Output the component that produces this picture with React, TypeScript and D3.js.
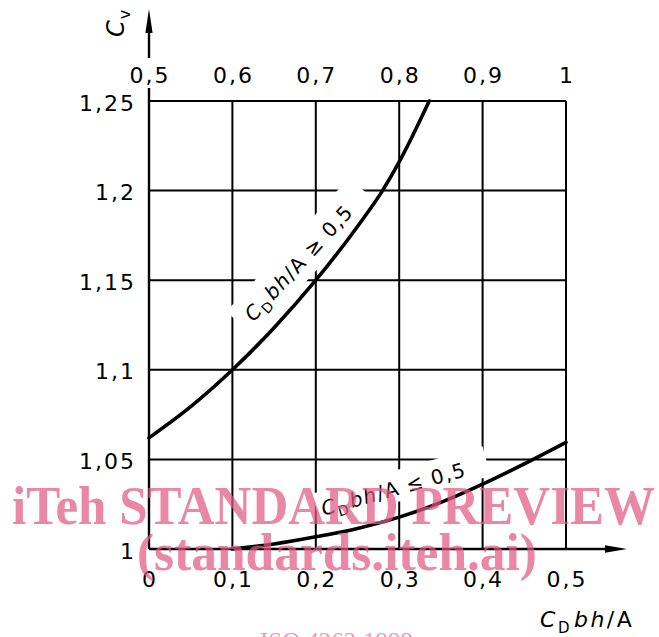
import React from "react";
import * as d3 from "d3";

// ---- data ----
const bottomTicks = [0, 0.1, 0.2, 0.3, 0.4, 0.5];
const bottomLabels = ["0", "0,1", "0,2", "0,3", "0,4", "0,5"];
const topTicks = [0.5, 0.6, 0.7, 0.8, 0.9, 1];
const topLabels = ["0,5", "0,6", "0,7", "0,8", "0,9", "1"];
const yTicks = [1, 1.05, 1.1, 1.15, 1.2, 1.25];
const yLabels = ["1", "1,05", "1,1", "1,15", "1,2", "1,25"];

// curve CDbh/A >= 0.5 (read on top axis)
const upperX = [0.5, 0.55, 0.6, 0.65, 0.7, 0.75, 0.78, 0.8, 0.836];
const upperCv = [1.062, 1.0794, 1.1, 1.1235, 1.15, 1.18, 1.2, 1.216, 1.25];
// curve CDbh/A <= 0.5 (read on bottom axis)
const lowerX = [0.1, 0.15, 0.2, 0.25, 0.3, 0.35, 0.4, 0.45, 0.5];
const lowerCv = [1.0, 1.0028, 1.0068, 1.0115, 1.0178, 1.026, 1.0362, 1.0475, 1.0595];

const W = 659;
const H = 637;
const FONT = "'DejaVu Sans', sans-serif";

export default function App() {
  const xB = d3.scaleLinear().domain([0, 0.5]).range([149, 566]);
  const xT = d3.scaleLinear().domain([0.5, 1]).range([149, 566]);
  const y = d3.scaleLinear().domain([1, 1.25]).range([549, 101]);

  const upperLine = d3
    .line<number>()
    .x((_, i) => xT(upperX[i]))
    .y((d) => y(d))
    .curve(d3.curveMonotoneX)(upperCv) as string;
  const lowerLine = d3
    .line<number>()
    .x((_, i) => xB(lowerX[i]))
    .y((d) => y(d))
    .curve(d3.curveMonotoneX)(lowerCv) as string;

  const x0 = xB(0);
  const x1 = xB(0.5);
  const y0 = y(1);
  const y1 = y(1.25);

  const lbl = { fontFamily: FONT, fontSize: 22, letterSpacing: 2, fill: "#000" } as const;
  const curveLbl = { fontFamily: FONT, fontSize: 20, letterSpacing: 1.3, fill: "#000" } as const;

  return (
    <svg
      width={W}
      height={H}
      viewBox={`0 0 ${W} ${H}`}
      style={{ position: "absolute", left: 0, top: 0, background: "#fff" }}
    >
      <rect x={0} y={0} width={W} height={H} fill="#fff" />
      {/* vertical grid lines */}
      {bottomTicks.slice(1).map((t) => (
        <line key={"v" + t} x1={xB(t)} x2={xB(t)} y1={y1} y2={y0} stroke="#000" strokeWidth={2} />
      ))}
      {/* horizontal grid lines */}
      {yTicks.slice(1).map((t) => (
        <line key={"h" + t} x1={x0} x2={x1} y1={y(t)} y2={y(t)} stroke="#000" strokeWidth={2} />
      ))}

      {/* white boxes behind curve labels */}
      <g transform="translate(298.5,262.5) rotate(-47.4)">
        <rect x={-85} y={-20} width={182} height={38.5} fill="#fff" />
      </g>
      <g transform="translate(393.5,488.5) rotate(-15.6)">
        <rect x={-80} y={-17} width={177} height={31} fill="#fff" />
      </g>

      {/* y axis with arrow, broken around top label */}
      <line x1={x0} x2={x0} y1={y0} y2={88} stroke="#000" strokeWidth={2.4} />
      <line x1={x0} x2={x0} y1={58} y2={28} stroke="#000" strokeWidth={2.4} />
      <polygon points={`${x0},9 ${x0 - 3.6},33 ${x0 + 3.6},33`} fill="#000" />
      {/* x axis with arrow */}
      <line x1={x0} x2={607} y1={y0} y2={y0} stroke="#000" strokeWidth={2.4} />
      <polygon points={`627,${y0} 605,${y0 - 3.8} 605,${y0 + 3.8}`} fill="#000" />

      {/* curves */}
      <path d={upperLine} fill="none" stroke="#000" strokeWidth={3.6} strokeLinecap="round" />
      <path d={lowerLine} fill="none" stroke="#000" strokeWidth={3.6} strokeLinecap="round" />

      {/* curve labels */}
      <g transform="translate(298.5,262.5) rotate(-47.4)">
        <text x={0} y={7.5} textAnchor="middle" style={curveLbl}>
          <tspan fontStyle="italic">C</tspan>
          <tspan dy={5} fontSize={14}>D</tspan>
          <tspan dy={-5} dx={2} fontStyle="italic">bh</tspan>
          <tspan>/A ≥ 0,5</tspan>
        </text>
      </g>
      <g transform="translate(393.5,488.5) rotate(-15.6)">
        <text x={0} y={7.5} textAnchor="middle" style={curveLbl}>
          <tspan fontStyle="italic">C</tspan>
          <tspan dy={5} fontSize={14}>D</tspan>
          <tspan dy={-5} dx={2} fontStyle="italic">bh</tspan>
          <tspan>/A ≤ 0,5</tspan>
        </text>
      </g>

      {/* tick labels */}
      {bottomTicks.map((t, i) => (
        <text key={"bl" + t} x={xB(t) + 1} y={587} textAnchor="middle" style={lbl}>
          {bottomLabels[i]}
        </text>
      ))}
      {topTicks.map((t, i) => (
        <text key={"tl" + t} x={xT(t) + 1} y={83} textAnchor="middle" style={lbl}>
          {topLabels[i]}
        </text>
      ))}
      {yTicks.map((t, i) => (
        <text key={"yl" + t} x={136} y={y(t) + 9.5} textAnchor="end" style={lbl}>
          {yLabels[i]}
        </text>
      ))}

      {/* axis titles */}
      <g transform="translate(124,37) rotate(-90)">
        <text x={0} y={0} style={{ ...lbl, fontSize: 24, letterSpacing: 1 }}>
          <tspan fontStyle="italic">C</tspan>
          <tspan dy={6} fontSize={16}>v</tspan>
        </text>
      </g>
      <text x={540} y={626.5} style={{ ...lbl, letterSpacing: 2.5 }}>
        <tspan fontStyle="italic">C</tspan>
        <tspan dy={6} fontSize={15}>D</tspan>
        <tspan dy={-6} dx={2} fontStyle="italic">bh</tspan>
        <tspan>/A</tspan>
      </text>

      {/* watermark */}
      <g fill="rgb(226,90,130)" opacity={0.72} fontFamily="'Liberation Serif', 'Times New Roman', serif" fontWeight="bold">
        <text x={12} y={524} fontSize={54} textLength={643} lengthAdjust="spacingAndGlyphs">
          iTeh STANDARD PREVIEW
        </text>
        <text x={137} y={570} fontSize={52} textLength={400} lengthAdjust="spacingAndGlyphs">
          (standards.iteh.ai)
        </text>
      </g>
      <text
        x={260}
        y={650}
        fontSize={25}
        fill="rgb(236,130,165)"
        opacity={0.8}
        fontFamily="'Liberation Serif', serif"
        textLength={153}
        lengthAdjust="spacingAndGlyphs"
      >
        ISO 4262:1999
      </text>
    </svg>
  );
}
